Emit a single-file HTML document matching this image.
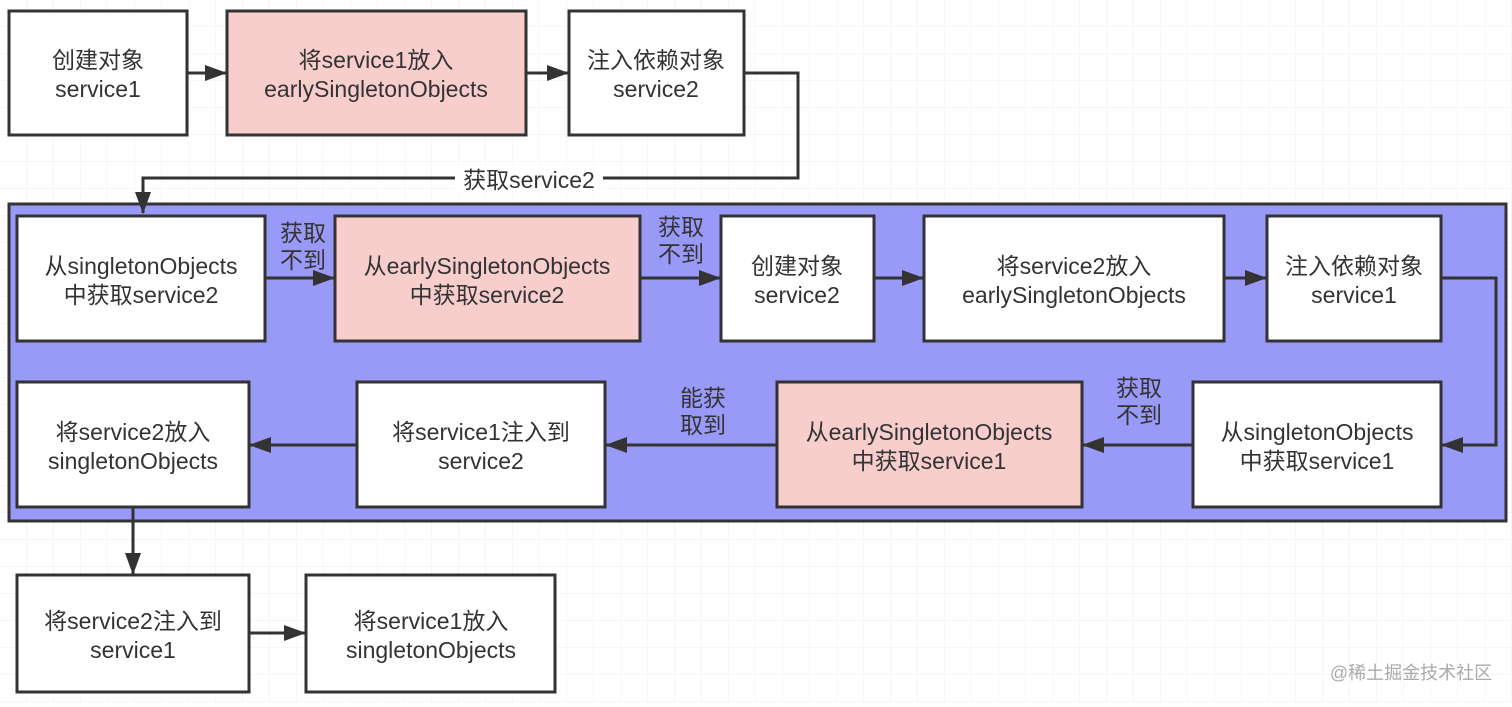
<!DOCTYPE html>
<html><head><meta charset="utf-8"><style>
body{margin:0;background:#fff;}
svg text{font-family:"Liberation Sans","Noto Sans CJK SC",sans-serif;font-size:23px;fill:#333;text-anchor:middle;}
</style></head><body>
<svg width="1512" height="702" xmlns="http://www.w3.org/2000/svg">
<defs>
<pattern id="g" width="27" height="27" patternUnits="userSpaceOnUse"><path d="M27 0V27H0" fill="none" stroke="#eee" stroke-width="1"/></pattern>
<marker id="b" markerWidth="22" markerHeight="16" refX="21" refY="8" orient="auto" markerUnits="userSpaceOnUse"><path d="M0,0 L22,8 L0,16 Z" fill="#333"/></marker>
</defs>
<rect width="1512" height="702" fill="url(#g)"/>
<g stroke="#333" stroke-width="3">
<rect x="9" y="204" width="1497" height="317" fill="#9999f8"/>
<rect x="9" y="11" width="178" height="124" fill="#fff"/>
<rect x="227" y="11" width="299" height="124" fill="#f8cecc"/>
<rect x="569" y="11" width="175" height="124" fill="#fff"/>
<rect x="17" y="216" width="248" height="125" fill="#fff"/>
<rect x="335" y="216" width="305" height="125" fill="#f8cecc"/>
<rect x="721" y="216" width="153" height="125" fill="#fff"/>
<rect x="924" y="216" width="300" height="125" fill="#fff"/>
<rect x="1267" y="216" width="174" height="125" fill="#fff"/>
<rect x="17" y="382" width="232" height="125" fill="#fff"/>
<rect x="357" y="382" width="248" height="125" fill="#fff"/>
<rect x="777" y="382" width="305" height="125" fill="#f8cecc"/>
<rect x="1193" y="382" width="248" height="125" fill="#fff"/>
<rect x="17" y="575" width="232" height="117" fill="#fff"/>
<rect x="306" y="575" width="249" height="117" fill="#fff"/>
</g>
<g stroke="#333" stroke-width="3" fill="none" marker-end="url(#b)">
<path d="M187 73H226"/>
<path d="M526 73H568"/>
<path d="M744 73H798V178H143V213"/>
<path d="M265 278H334"/>
<path d="M640 278H720"/>
<path d="M874 278H923"/>
<path d="M1224 278H1266"/>
<path d="M1441 278H1496V445H1442"/>
<path d="M1193 445H1083"/>
<path d="M777 445H606"/>
<path d="M357 445H250"/>
<path d="M133 507V574"/>
<path d="M249 633H305"/>
</g>
<rect x="455" y="165" width="148" height="28" fill="#fff"/>
<text x="529" y="188">获取service2</text>
<text x="98" y="68">创建对象</text><text x="98" y="97">service1</text>
<text x="376" y="68">将service1放入</text><text x="376" y="97">earlySingletonObjects</text>
<text x="656" y="68">注入依赖对象</text><text x="656" y="97">service2</text>
<text x="141" y="274">从singletonObjects</text><text x="141" y="303">中获取service2</text>
<text x="487" y="274">从earlySingletonObjects</text><text x="487" y="303">中获取service2</text>
<text x="797" y="274">创建对象</text><text x="797" y="303">service2</text>
<text x="1074" y="274">将service2放入</text><text x="1074" y="303">earlySingletonObjects</text>
<text x="1354" y="274">注入依赖对象</text><text x="1354" y="303">service1</text>
<text x="133" y="440">将service2放入</text><text x="133" y="469">singletonObjects</text>
<text x="481" y="440">将service1注入到</text><text x="481" y="469">service2</text>
<text x="929" y="440">从earlySingletonObjects</text><text x="929" y="469">中获取service1</text>
<text x="1317" y="440">从singletonObjects</text><text x="1317" y="469">中获取service1</text>
<text x="133" y="629">将service2注入到</text><text x="133" y="658">service1</text>
<text x="431" y="629">将service1放入</text><text x="431" y="658">singletonObjects</text>
<text x="303" y="241">获取</text><text x="303" y="268">不到</text>
<text x="681" y="235">获取</text><text x="681" y="262">不到</text>
<text x="1139" y="396">获取</text><text x="1139" y="423">不到</text>
<text x="703" y="406">能获</text><text x="703" y="433">取到</text>
<text x="1411" y="679" style="font-size:18px;fill:#aaa">@稀土掘金技术社区</text>
</svg>
</body></html>
